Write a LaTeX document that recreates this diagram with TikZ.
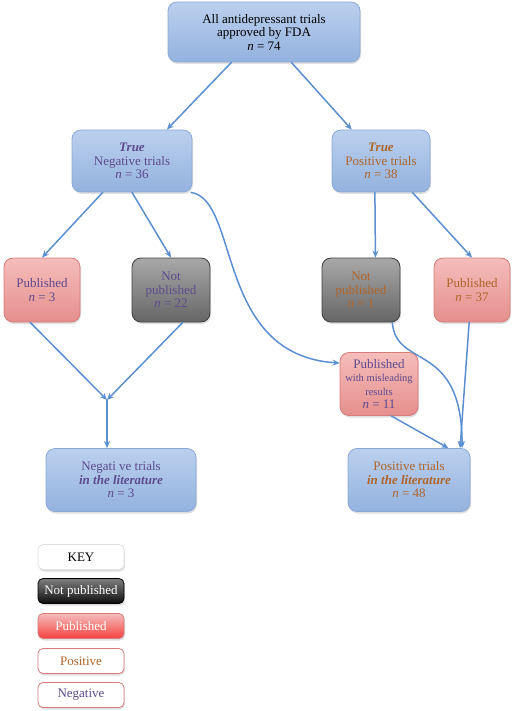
\documentclass[tikz,border=0pt]{standalone}
\usepackage{fontspec}
\setmainfont{Liberation Serif}
\usetikzlibrary{arrows.meta,shadows,positioning}
\definecolor{linkblue}{HTML}{5B8FD0}
\definecolor{bluetop}{HTML}{BBD0EE}
\definecolor{bluebot}{HTML}{93B2DE}
\definecolor{blueline}{HTML}{8AA9D5}
\definecolor{redtop}{HTML}{F5BDBB}
\definecolor{redbot}{HTML}{E58F8D}
\definecolor{redline}{HTML}{D77C7A}
\definecolor{greytop}{HTML}{A8A8A8}
\definecolor{greybot}{HTML}{666666}
\definecolor{negtext}{HTML}{5E4A8E}
\definecolor{postext}{HTML}{B0652A}
\newcommand{\smalltxt}{\fontsize{10.5}{10.5}\selectfont}
\tikzset{
  every picture/.style={line join=round, line cap=round, >=Stealth},
  box/.style={rounded corners=9pt, align=center, inner sep=2pt, font=\fontsize{13}{13.5}\selectfont,
    drop shadow={opacity=0.25,shadow xshift=1pt,shadow yshift=-2pt}},
  bluebox/.style={box, top color=bluetop, bottom color=bluebot, draw=blueline, line width=0.8pt},
  redbox/.style={box, top color=redtop, bottom color=redbot, draw=redline, line width=0.8pt},
  greybox/.style={box, top color=greytop, bottom color=greybot, draw=black!75, line width=0.8pt},
  keybox/.style={box, rounded corners=5pt, minimum width=86pt, minimum height=25pt, line width=0.8pt},
  link/.style={-{Stealth[length=7pt,width=6pt]}, draw=linkblue, line width=1.5pt},
}
\begin{document}
\begin{tikzpicture}[x=1pt,y=-1pt]
\useasboundingbox (0,0) rectangle (514,711);
\node[bluebox, minimum width=192pt, minimum height=60pt] (all) at (264,32) {All antidepressant trials\\approved by FDA\\\textit{n} = 74};
\node[bluebox, minimum width=120pt, minimum height=62pt, text=negtext] (neg) at (132,161) {\textbf{\textit{True}}\\Negative trials\\\textit{n} = 36};
\node[bluebox, minimum width=98pt, minimum height=62pt, text=postext] (pos) at (381,161) {\textbf{\textit{True}}\\Positive trials\\\textit{n} = 38};
\node[redbox, minimum width=76pt, minimum height=64pt, text=negtext] (negpub) at (42,290) {Published\\\textit{n} = 3};
\node[greybox, minimum width=78pt, minimum height=64pt, text=negtext] (negnp) at (171,290) {Not\\published\\\textit{n} = 22};
\node[greybox, minimum width=78pt, minimum height=64pt, text=postext] (posnp) at (361,290) {Not\\published\\\textit{n} = 1};
\node[redbox, minimum width=76pt, minimum height=64pt, text=postext] (pospub) at (472,290) {Published\\\textit{n} = 37};
\node[redbox, minimum width=78pt, minimum height=63pt, text=negtext] (mislead) at (379,384) {Published\\\smalltxt with misleading\\\smalltxt results\\\textit{n} = 11};
\node[bluebox, minimum width=150pt, minimum height=63pt, text=negtext] (neglit) at (121,480) {Negati ve trials\\\textbf{\textit{in the literature}}\\\textit{n} = 3};
\node[bluebox, minimum width=122pt, minimum height=63pt, text=postext] (poslit) at (409,480) {Positive trials\\\textbf{\textit{in the literature}}\\\textit{n} = 48};
\coordinate (merge) at (107,400);
\node[keybox, fill=white, draw=black!12] (key) at (81,557) {KEY};
\node[keybox, top color=black!50, bottom color=black!95, draw=black, text=white] (keynp) at (81,591) {Not published};
\node[keybox, top color=redtop, bottom color=red!55!redbot, draw=redline, text=white] (keypub) at (81,626) {Published};
\node[keybox, fill=white, draw=redline, text=postext] (keypos) at (81,661) {Positive};
\node[keybox, fill=white, draw=redline, text=negtext] (keyneg) at (81,695) {Negative};
\draw[link] (all.-137) -- (neg.42);
\draw[link] (all.-48) -- (pos.133);
\draw[link] (neg.-133) -- (negpub.north);
\draw[link] (neg.south) -- (negnp.north);
\draw[link] (neg.-28) .. controls (240,200) and (215,355) .. (mislead.152);
\draw[link] (pos.-101) -- (posnp.66);
\draw[link] (pos.-45) -- (pospub.north);
\draw[link] (negpub.-110) -- (merge);
\draw[link] (negnp.-70) -- (merge);
\draw[link] (merge) -- (merge |- neglit.north);
\draw[link] (posnp.-46) .. controls (396,370) and (462,340) .. (poslit.31);
\draw[link] (pospub.-95) -- (poslit.32);
\draw[link] (mislead.-69) -- (poslit.39);
\end{tikzpicture}
\end{document}
